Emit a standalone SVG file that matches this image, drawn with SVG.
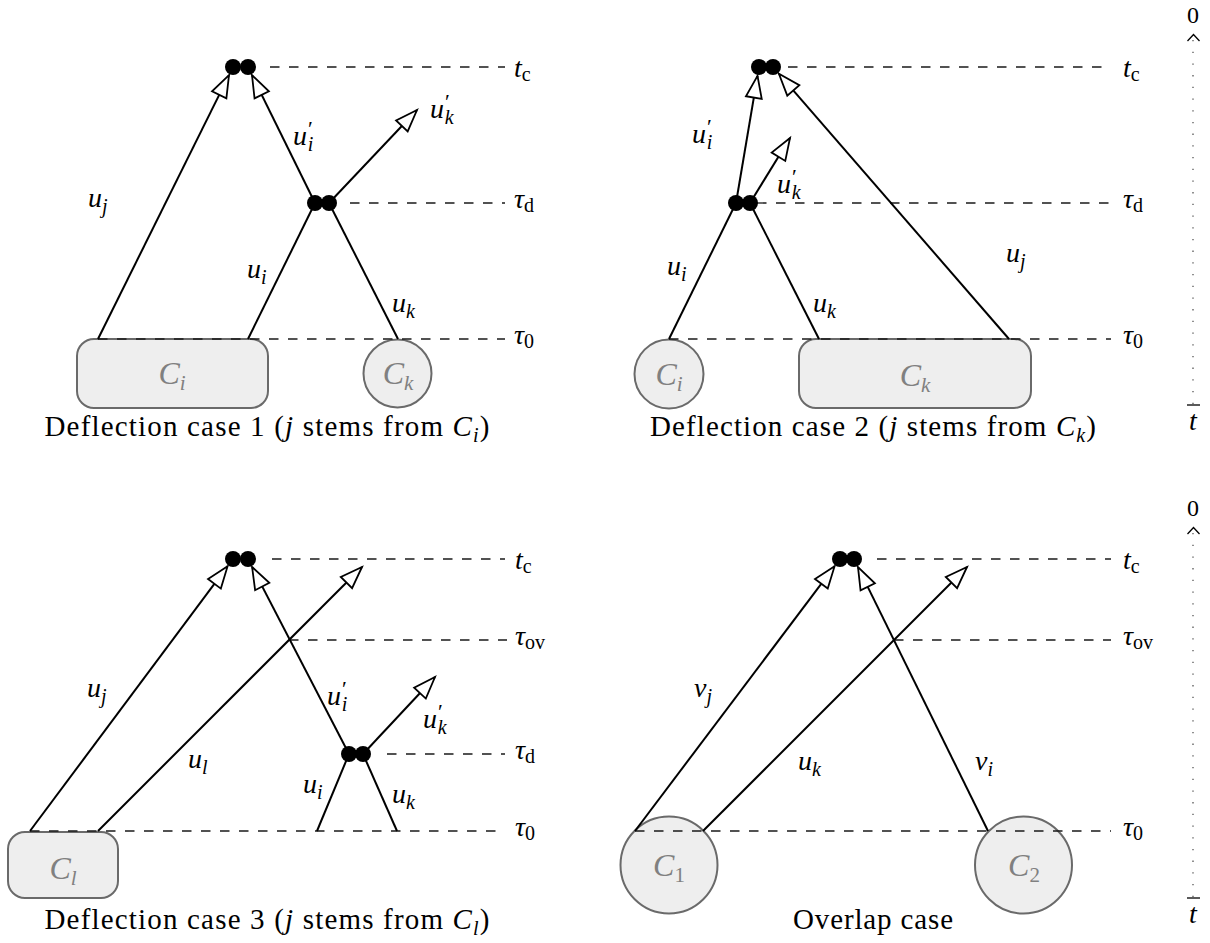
<svg xmlns="http://www.w3.org/2000/svg" width="1210" height="943" viewBox="0 0 1210 943">
  <defs>
    <marker id="tri" markerUnits="userSpaceOnUse" viewBox="-3 -11 28 22" refX="22" refY="0" markerWidth="28" markerHeight="22" orient="auto" overflow="visible">
      <path d="M22,0 L0,-8 L0,8 Z" fill="#fff" stroke="#000" stroke-width="1.8" stroke-linejoin="miter"/>
    </marker>
  </defs>
  <rect width="1210" height="943" fill="#fff"/>

  <!-- ===== Deflection case 1 ===== -->
  <g id="case1">
    <g id="case1-levels" stroke="#1a1a1a" stroke-width="1.3" stroke-dasharray="9.5 9.5" fill="none">
      <line x1="270" y1="67" x2="505" y2="67"/>
      <line x1="350" y1="203" x2="505" y2="203"/>
    </g>
    <g id="case1-level-labels">
      <text font-family="Liberation Serif, DejaVu Serif, serif" font-style="italic" font-size="28" x="514" y="77">t<tspan font-size="20" font-style="normal" dy="4">c</tspan></text>
      <text font-family="Liberation Serif, DejaVu Serif, serif" font-style="italic" font-size="28" x="514" y="208">τ<tspan font-size="20" font-style="normal" dy="4">d</tspan></text>
      <text font-family="Liberation Serif, DejaVu Serif, serif" font-style="italic" font-size="28" x="514" y="344">τ<tspan font-size="20" font-style="normal" dy="4">0</tspan></text>
    </g>
    <g id="case1-Ci">
      <rect x="77" y="339" width="191" height="69" rx="17" fill="#eeeeee" stroke="#6a6a6a" stroke-width="2"/>
      <text font-family="Liberation Serif, DejaVu Serif, serif" font-style="italic" font-size="32" fill="#808080" text-anchor="middle" x="172" y="384">C<tspan font-size="21" dy="6">i</tspan></text>
    </g>
    <g id="case1-Ck">
      <circle cx="397.5" cy="373.5" r="34" fill="#eeeeee" stroke="#6a6a6a" stroke-width="2"/>
      <text font-family="Liberation Serif, DejaVu Serif, serif" font-style="italic" font-size="32" fill="#808080" text-anchor="middle" x="398" y="384">C<tspan font-size="21" dy="6">k</tspan></text>
    </g>
    <line x1="98" y1="339" x2="505" y2="339" stroke="#1a1a1a" stroke-width="1.3" stroke-dasharray="9.5 9.5"/>
    <g id="case1-connectors" stroke="#000" stroke-width="2" fill="none">
      <line x1="98" y1="339" x2="229" y2="75.1" marker-end="url(#tri)"/>
      <line x1="315" y1="203" x2="252" y2="75.1" marker-end="url(#tri)"/>
      <line x1="329" y1="203" x2="417" y2="110" marker-end="url(#tri)"/>
      <line x1="248" y1="339" x2="315" y2="203"/>
      <line x1="398" y1="339" x2="329" y2="203"/>
    </g>
    <g id="case1-collisions" fill="#000">
      <circle cx="233" cy="67" r="8"/>
      <circle cx="248" cy="67" r="8"/>
      <circle cx="315" cy="203" r="8"/>
      <circle cx="329" cy="203" r="8"/>
    </g>
    <g id="case1-labels">
      <text font-family="Liberation Serif, DejaVu Serif, serif" font-style="italic" font-size="28" x="88" y="207">u<tspan font-size="20" dy="6">j</tspan></text>
      <text font-family="Liberation Serif, DejaVu Serif, serif" font-style="italic" font-size="28" x="247" y="278">u<tspan font-size="20" dy="6">i</tspan></text>
      <text font-family="Liberation Serif, DejaVu Serif, serif" font-style="italic" font-size="28" x="392" y="312">u<tspan font-size="20" dy="6">k</tspan></text>
      <text font-family="Liberation Serif, DejaVu Serif, serif" font-style="italic" font-size="28" x="293" y="145">u<tspan font-size="22" font-style="normal" dx="1" dy="-9">′</tspan><tspan font-size="20" dx="-5" dy="15">i</tspan></text>
      <text font-family="Liberation Serif, DejaVu Serif, serif" font-style="italic" font-size="28" x="430" y="118">u<tspan font-size="22" font-style="normal" dx="1" dy="-9">′</tspan><tspan font-size="20" dx="-5" dy="15">k</tspan></text>
    </g>
    <text font-family="Liberation Serif, DejaVu Serif, serif" font-size="29" text-anchor="middle" x="267" y="436" textLength="445" lengthAdjust="spacing">Deflection case 1 (<tspan font-style="italic">j</tspan> stems from <tspan font-style="italic">C</tspan><tspan font-style="italic" font-size="20" dy="6">i</tspan><tspan dy="-6">)</tspan></text>
  </g>

  <!-- ===== Deflection case 2 ===== -->
  <g id="case2">
    <g id="case2-levels" stroke="#1a1a1a" stroke-width="1.3" stroke-dasharray="9.5 9.5" fill="none">
      <line x1="788" y1="67" x2="1111" y2="67"/>
      <line x1="757" y1="203" x2="1111" y2="203"/>
    </g>
    <g id="case2-level-labels">
      <text font-family="Liberation Serif, DejaVu Serif, serif" font-style="italic" font-size="28" x="1123" y="77">t<tspan font-size="20" font-style="normal" dy="4">c</tspan></text>
      <text font-family="Liberation Serif, DejaVu Serif, serif" font-style="italic" font-size="28" x="1123" y="208">τ<tspan font-size="20" font-style="normal" dy="4">d</tspan></text>
      <text font-family="Liberation Serif, DejaVu Serif, serif" font-style="italic" font-size="28" x="1123" y="344">τ<tspan font-size="20" font-style="normal" dy="4">0</tspan></text>
    </g>
    <g id="case2-Ci">
      <circle cx="669" cy="374" r="34.5" fill="#eeeeee" stroke="#6a6a6a" stroke-width="2"/>
      <text font-family="Liberation Serif, DejaVu Serif, serif" font-style="italic" font-size="32" fill="#808080" text-anchor="middle" x="669" y="385">C<tspan font-size="21" dy="6">i</tspan></text>
    </g>
    <g id="case2-Ck">
      <rect x="799" y="339" width="232" height="69" rx="17" fill="#eeeeee" stroke="#6a6a6a" stroke-width="2"/>
      <text font-family="Liberation Serif, DejaVu Serif, serif" font-style="italic" font-size="32" fill="#808080" text-anchor="middle" x="915" y="386">C<tspan font-size="21" dy="6">k</tspan></text>
    </g>
    <line x1="669" y1="339" x2="1111" y2="339" stroke="#1a1a1a" stroke-width="1.3" stroke-dasharray="9.5 9.5"/>
    <g id="case2-connectors" stroke="#000" stroke-width="2" fill="none">
      <line x1="736" y1="203" x2="757.5" y2="75.9" marker-end="url(#tri)"/>
      <line x1="1009" y1="339" x2="778.9" y2="73.8" marker-end="url(#tri)"/>
      <line x1="750" y1="203" x2="790" y2="138" marker-end="url(#tri)"/>
      <line x1="669" y1="339" x2="736" y2="203"/>
      <line x1="819" y1="339" x2="750" y2="203"/>
    </g>
    <g id="case2-collisions" fill="#000">
      <circle cx="759" cy="67" r="8"/>
      <circle cx="773" cy="67" r="8"/>
      <circle cx="736" cy="203" r="8"/>
      <circle cx="750" cy="203" r="8"/>
    </g>
    <g id="case2-labels">
      <text font-family="Liberation Serif, DejaVu Serif, serif" font-style="italic" font-size="28" x="692" y="143">u<tspan font-size="22" font-style="normal" dx="1" dy="-9">′</tspan><tspan font-size="20" dx="-5" dy="15">i</tspan></text>
      <text font-family="Liberation Serif, DejaVu Serif, serif" font-style="italic" font-size="28" x="777" y="193">u<tspan font-size="22" font-style="normal" dx="1" dy="-9">′</tspan><tspan font-size="20" dx="-5" dy="15">k</tspan></text>
      <text font-family="Liberation Serif, DejaVu Serif, serif" font-style="italic" font-size="28" x="667" y="275">u<tspan font-size="20" dy="6">i</tspan></text>
      <text font-family="Liberation Serif, DejaVu Serif, serif" font-style="italic" font-size="28" x="813" y="312">u<tspan font-size="20" dy="6">k</tspan></text>
      <text font-family="Liberation Serif, DejaVu Serif, serif" font-style="italic" font-size="28" x="1006" y="262">u<tspan font-size="20" dy="6">j</tspan></text>
    </g>
    <text font-family="Liberation Serif, DejaVu Serif, serif" font-size="29" text-anchor="middle" x="873" y="436" textLength="446" lengthAdjust="spacing">Deflection case 2 (<tspan font-style="italic">j</tspan> stems from <tspan font-style="italic">C</tspan><tspan font-style="italic" font-size="20" dy="6">k</tspan><tspan dy="-6">)</tspan></text>
  </g>

  <!-- ===== Deflection case 3 ===== -->
  <g id="case3">
    <g id="case3-levels" stroke="#1a1a1a" stroke-width="1.3" stroke-dasharray="9.5 9.5" fill="none">
      <line x1="272" y1="559" x2="505" y2="559"/>
      <line x1="289" y1="640" x2="507" y2="640"/>
      <line x1="387" y1="754" x2="505" y2="754"/>
    </g>
    <g id="case3-level-labels">
      <text font-family="Liberation Serif, DejaVu Serif, serif" font-style="italic" font-size="28" x="515" y="569">t<tspan font-size="20" font-style="normal" dy="4">c</tspan></text>
      <text font-family="Liberation Serif, DejaVu Serif, serif" font-style="italic" font-size="28" x="515" y="645">τ<tspan font-size="20" font-style="normal" dy="4">ov</tspan></text>
      <text font-family="Liberation Serif, DejaVu Serif, serif" font-style="italic" font-size="28" x="515" y="759">τ<tspan font-size="20" font-style="normal" dy="4">d</tspan></text>
      <text font-family="Liberation Serif, DejaVu Serif, serif" font-style="italic" font-size="28" x="515" y="836">τ<tspan font-size="20" font-style="normal" dy="4">0</tspan></text>
    </g>
    <g id="case3-Cl">
      <rect x="8" y="832" width="110" height="66" rx="17" fill="#eeeeee" stroke="#6a6a6a" stroke-width="2"/>
      <text font-family="Liberation Serif, DejaVu Serif, serif" font-style="italic" font-size="32" fill="#808080" text-anchor="middle" x="63" y="879">C<tspan font-size="21" dy="6">l</tspan></text>
    </g>
    <line x1="30" y1="831" x2="505" y2="831" stroke="#1a1a1a" stroke-width="1.3" stroke-dasharray="9.5 9.5"/>
    <g id="case3-connectors" stroke="#000" stroke-width="2" fill="none">
      <line x1="30" y1="831" x2="227.6" y2="566.2" marker-end="url(#tri)"/>
      <line x1="349" y1="754" x2="252.1" y2="567" marker-end="url(#tri)"/>
      <line x1="98" y1="831" x2="362" y2="567" marker-end="url(#tri)"/>
      <line x1="363" y1="754" x2="435" y2="677" marker-end="url(#tri)"/>
      <line x1="317" y1="831" x2="349" y2="754"/>
      <line x1="397" y1="831" x2="363" y2="754"/>
    </g>
    <g id="case3-collisions" fill="#000">
      <circle cx="233" cy="559" r="8"/>
      <circle cx="248" cy="559" r="8"/>
      <circle cx="349" cy="754" r="8"/>
      <circle cx="363" cy="754" r="8"/>
    </g>
    <g id="case3-labels">
      <text font-family="Liberation Serif, DejaVu Serif, serif" font-style="italic" font-size="28" x="87" y="697">u<tspan font-size="20" dy="6">j</tspan></text>
      <text font-family="Liberation Serif, DejaVu Serif, serif" font-style="italic" font-size="28" x="188" y="768">u<tspan font-size="20" dy="6">l</tspan></text>
      <text font-family="Liberation Serif, DejaVu Serif, serif" font-style="italic" font-size="28" x="327" y="705">u<tspan font-size="22" font-style="normal" dx="1" dy="-9">′</tspan><tspan font-size="20" dx="-5" dy="15">i</tspan></text>
      <text font-family="Liberation Serif, DejaVu Serif, serif" font-style="italic" font-size="28" x="423" y="728">u<tspan font-size="22" font-style="normal" dx="1" dy="-9">′</tspan><tspan font-size="20" dx="-5" dy="15">k</tspan></text>
      <text font-family="Liberation Serif, DejaVu Serif, serif" font-style="italic" font-size="28" x="303" y="793">u<tspan font-size="20" dy="6">i</tspan></text>
      <text font-family="Liberation Serif, DejaVu Serif, serif" font-style="italic" font-size="28" x="392" y="803">u<tspan font-size="20" dy="6">k</tspan></text>
    </g>
    <text font-family="Liberation Serif, DejaVu Serif, serif" font-size="29" text-anchor="middle" x="267" y="929" textLength="445" lengthAdjust="spacing">Deflection case 3 (<tspan font-style="italic">j</tspan> stems from <tspan font-style="italic">C</tspan><tspan font-style="italic" font-size="20" dy="6">l</tspan><tspan dy="-6">)</tspan></text>
  </g>

  <!-- ===== Overlap case ===== -->
  <g id="overlap">
    <g id="overlap-levels" stroke="#1a1a1a" stroke-width="1.3" stroke-dasharray="9.5 9.5" fill="none">
      <line x1="877" y1="559" x2="1111" y2="559"/>
      <line x1="894" y1="640" x2="1111" y2="640"/>
    </g>
    <g id="overlap-level-labels">
      <text font-family="Liberation Serif, DejaVu Serif, serif" font-style="italic" font-size="28" x="1123" y="569">t<tspan font-size="20" font-style="normal" dy="4">c</tspan></text>
      <text font-family="Liberation Serif, DejaVu Serif, serif" font-style="italic" font-size="28" x="1123" y="645">τ<tspan font-size="20" font-style="normal" dy="4">ov</tspan></text>
      <text font-family="Liberation Serif, DejaVu Serif, serif" font-style="italic" font-size="28" x="1123" y="836">τ<tspan font-size="20" font-style="normal" dy="4">0</tspan></text>
    </g>
    <g id="overlap-C1">
      <circle cx="669" cy="865" r="48.5" fill="#eeeeee" stroke="#6a6a6a" stroke-width="2"/>
      <text font-family="Liberation Serif, DejaVu Serif, serif" font-style="italic" font-size="32" fill="#808080" text-anchor="middle" x="669" y="876">C<tspan font-size="21" font-style="normal" dy="6">1</tspan></text>
    </g>
    <g id="overlap-C2">
      <circle cx="1023.5" cy="865" r="48.5" fill="#eeeeee" stroke="#6a6a6a" stroke-width="2"/>
      <text font-family="Liberation Serif, DejaVu Serif, serif" font-style="italic" font-size="32" fill="#808080" text-anchor="middle" x="1024" y="876">C<tspan font-size="21" font-style="normal" dy="6">2</tspan></text>
    </g>
    <line x1="635" y1="831" x2="1111" y2="831" stroke="#1a1a1a" stroke-width="1.3" stroke-dasharray="9.5 9.5"/>
    <g id="overlap-connectors" stroke="#000" stroke-width="2" fill="none">
      <line x1="635" y1="831" x2="834.6" y2="566.2" marker-end="url(#tri)"/>
      <line x1="988" y1="831" x2="858" y2="567.1" marker-end="url(#tri)"/>
      <line x1="703" y1="831" x2="967" y2="567" marker-end="url(#tri)"/>
    </g>
    <g id="overlap-collisions" fill="#000">
      <circle cx="840" cy="559" r="8"/>
      <circle cx="854" cy="559" r="8"/>
    </g>
    <g id="overlap-labels">
      <text font-family="Liberation Serif, DejaVu Serif, serif" font-style="italic" font-size="28" x="694" y="697">v<tspan font-size="20" dy="6">j</tspan></text>
      <text font-family="Liberation Serif, DejaVu Serif, serif" font-style="italic" font-size="28" x="798" y="770">u<tspan font-size="20" dy="6">k</tspan></text>
      <text font-family="Liberation Serif, DejaVu Serif, serif" font-style="italic" font-size="28" x="975" y="770">v<tspan font-size="20" dy="6">i</tspan></text>
    </g>
    <text font-family="Liberation Serif, DejaVu Serif, serif" font-size="29" text-anchor="middle" x="873" y="929" textLength="160" lengthAdjust="spacing">Overlap case</text>
  </g>

  <!-- ===== time axes ===== -->
  <g id="axis-top">
    <line x1="1193" y1="404" x2="1193" y2="38" stroke="#555" stroke-width="1.3" stroke-dasharray="1.3 10.4"/>
    <polyline points="1187.5,41 1193.5,34.5 1199.5,41" stroke="#000" stroke-width="1.3" fill="none"/>
    <line x1="1187" y1="405" x2="1200" y2="405" stroke="#000" stroke-width="1.3"/>
    <text font-family="Liberation Serif, DejaVu Serif, serif" font-size="24" x="1193" y="23" text-anchor="middle">0</text>
    <text font-family="Liberation Serif, DejaVu Serif, serif" font-style="italic" font-size="28" x="1193" y="430" text-anchor="middle">t</text>
  </g>
  <g id="axis-bottom">
    <line x1="1193" y1="897" x2="1193" y2="531" stroke="#555" stroke-width="1.3" stroke-dasharray="1.3 10.4"/>
    <polyline points="1187.5,534 1193.5,527.5 1199.5,534" stroke="#000" stroke-width="1.3" fill="none"/>
    <line x1="1187" y1="898" x2="1200" y2="898" stroke="#000" stroke-width="1.3"/>
    <text font-family="Liberation Serif, DejaVu Serif, serif" font-size="24" x="1193" y="516" text-anchor="middle">0</text>
    <text font-family="Liberation Serif, DejaVu Serif, serif" font-style="italic" font-size="28" x="1193" y="923" text-anchor="middle">t</text>
  </g>
</svg>
